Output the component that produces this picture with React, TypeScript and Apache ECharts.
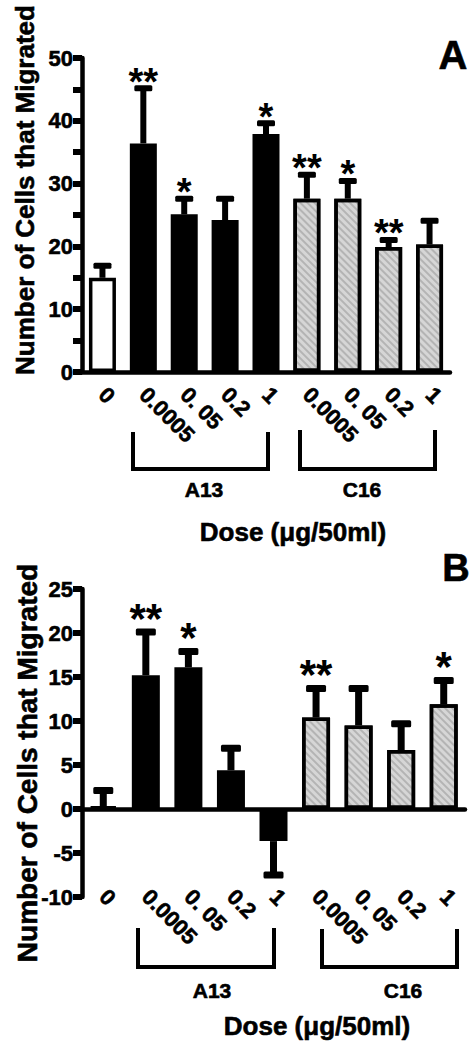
import React, { useEffect, useRef } from 'react';
import * as echarts from 'echarts';

// ---------- data ----------
const doses = ['0', '0.0005', '0. 05', '0.2', '1', '0.0005', '0. 05', '0.2', '1'];
const groups = ['control', 'A13', 'A13', 'A13', 'A13', 'C16', 'C16', 'C16', 'C16'];

const valuesA = [15.0, 36.4, 25.1, 24.2, 37.9, 27.6, 27.6, 19.9, 20.3];
const errEndA = [16.9, 45.2, 27.6, 27.6, 39.6, 31.4, 30.4, 21.0, 24.1];
const starsA = ['', '**', '*', '', '*', '**', '*', '**', ''];

const valuesB = [0.3, 15.2, 16.1, 4.4, -3.65, 10.4, 9.5, 6.7, 11.9];
const errEndB = [2.1, 20.1, 17.9, 6.9, -7.5, 13.7, 13.7, 9.7, 14.6];
const starsB = ['', '**', '*', '', '', '**', '', '', '*'];

const yTitle = 'Number of Cells that Migrated';
const xTitle = 'Dose (\u03bcg/50ml)';

// ---------- styles ----------
const FONT = '"Liberation Sans", Arial, Helvetica, sans-serif';
const STROKE = 0.6;

function barItem(v: number, g: string) {
  if (g === 'control') {
    return { value: v, itemStyle: { color: '#ffffff', borderColor: '#000', borderWidth: 3.5 } };
  }
  if (g === 'A13') {
    return { value: v, itemStyle: { color: '#000000', borderColor: '#000', borderWidth: 8 } };
  }
  return {
    value: v,
    itemStyle: {
      color: '#d6d6d6',
      borderColor: '#000',
      borderWidth: 3.5,
      decal: {
        symbol: 'rect',
        symbolSize: 1,
        color: 'rgba(0,0,0,0.16)',
        dashArrayX: [1, 0],
        dashArrayY: [1.5, 2.5],
        rotation: Math.PI / 4,
      },
    },
  };
}

function errorSeries(
  xi: number,
  yi: number,
  values: number[],
  ends: number[],
  stars: string[],
  stemW: number,
  capW: number,
  capH: number,
  starSize: number,
  starOff: number
) {
  return {
    type: 'custom',
    xAxisIndex: xi,
    yAxisIndex: yi,
    z: 5,
    data: values.map((v, i) => [i, v, ends[i]]),
    renderItem: (params: any, api: any) => {
      const i = api.value(0);
      const p0 = api.coord([i, api.value(1)]);
      const p1 = api.coord([i, api.value(2)]);
      const x = p0[0];
      const yTop = Math.min(p0[1], p1[1]);
      const yBot = Math.max(p0[1], p1[1]);
      const children: any[] = [
        { type: 'rect', shape: { x: x - stemW / 2, y: yTop, width: stemW, height: yBot - yTop }, style: { fill: '#000' } },
        { type: 'rect', shape: { x: x - capW / 2, y: p1[1] - capH / 2, width: capW, height: capH, r: 1.5 }, style: { fill: '#000' } },
      ];
      const s = stars[params.dataIndex];
      if (s) {
        children.push({
          type: 'text',
          x: x,
          y: p1[1] - starOff + 0.22 * starSize,
          style: {
            text: s,
            fill: '#000',
            font: `bold ${starSize}px ${FONT}`,
            align: 'center',
            verticalAlign: 'middle',
            textAlign: 'center',
            textVerticalAlign: 'middle',
          },
        });
      }
      return { type: 'group', children };
    },
  };
}

function gText(text: string, x: number, y: number, size: number, rotation = 0) {
  return {
    type: 'text',
    x,
    y,
    rotation,
    style: {
      text,
      fill: '#000',
      stroke: '#000',
      lineWidth: STROKE,
      font: `bold ${size}px ${FONT}`,
      align: 'center',
      verticalAlign: 'middle',
      textAlign: 'center',
      textVerticalAlign: 'middle',
    },
  };
}

function bracket(x1: number, x2: number, yTop: number, yBot: number) {
  return {
    type: 'polyline',
    shape: { points: [[x1, yTop], [x1, yBot], [x2, yBot], [x2, yTop]] },
    style: { stroke: '#000', lineWidth: 4, fill: null, lineJoin: 'miter' },
  };
}

const axisLineStyle = { color: '#000', width: 4.5 };
const tickLabel = {
  fontSize: 22,
  fontWeight: 'bold',
  color: '#000',
  fontFamily: FONT,
  margin: 9,
  textBorderColor: '#000',
  textBorderWidth: STROKE,
};
const xLabel = {
  rotate: -45,
  fontSize: 22,
  fontWeight: 'bold',
  color: '#000',
  fontFamily: FONT,
  interval: 0,
  textBorderColor: '#000',
  textBorderWidth: STROKE,
};

export default function App() {
  const ref = useRef<HTMLDivElement>(null);
  useEffect(() => {
    if (!ref.current) return;
    const chart = echarts.init(ref.current, null, { renderer: 'svg', width: 474, height: 1050 });
    const option: any = {
      animation: false,
      backgroundColor: '#fff',
      grid: [
        { left: 82, top: 58, width: 368, height: 314 },
        { left: 82, top: 589, width: 383, height: 308 },
      ],
      xAxis: [
        {
          gridIndex: 0,
          type: 'category',
          position: 'bottom',
          data: doses,
          axisLine: { show: true, lineStyle: axisLineStyle },
          axisTick: { show: false },
          axisLabel: { ...xLabel, margin: 19 },
        },
        {
          gridIndex: 1,
          type: 'category',
          position: 'bottom',
          data: doses,
          axisLine: { show: true, onZero: true, lineStyle: axisLineStyle },
          axisTick: { show: false },
          axisLabel: { show: false },
        },
        {
          gridIndex: 1,
          type: 'category',
          position: 'bottom',
          data: doses,
          axisLine: { show: false, onZero: false },
          axisTick: { show: false },
          axisLabel: { ...xLabel, margin: -4 },
        },
      ],
      yAxis: [
        {
          gridIndex: 0,
          type: 'value',
          min: 0,
          max: 50,
          interval: 5,
          axisLine: { show: true, lineStyle: axisLineStyle },
          axisTick: { show: true, length: 9, lineStyle: { color: '#000', width: 6 } },
          splitLine: { show: false },
          axisLabel: { ...tickLabel, formatter: (v: number) => (v % 10 === 0 ? String(v) : '') },
        },
        {
          gridIndex: 1,
          type: 'value',
          min: -10,
          max: 25,
          interval: 5,
          axisLine: { show: true, onZero: false, lineStyle: axisLineStyle },
          axisTick: { show: true, length: 9, lineStyle: { color: '#000', width: 6 } },
          splitLine: { show: false },
          axisLabel: { ...tickLabel },
        },
      ],
      series: [
        {
          type: 'bar',
          xAxisIndex: 0,
          yAxisIndex: 0,
          barWidth: 27,
          z: 2,
          data: valuesA.map((v, i) => barItem(v, groups[i])),
        },
        errorSeries(0, 0, valuesA, errEndA, starsA, 6, 18, 6, 38, 15),
        {
          type: 'bar',
          xAxisIndex: 1,
          yAxisIndex: 1,
          barWidth: 28,
          z: 2,
          data: valuesB.map((v, i) => barItem(v, groups[i])),
        },
        errorSeries(1, 1, valuesB, errEndB, starsB, 7, 20, 7, 42, 23),
      ],
      graphic: [
        gText(yTitle, 25, 190, 26, Math.PI / 2),
        gText('A', 453, 55, 40),
        bracket(133, 268, 432, 469),
        bracket(300, 435, 430, 469),
        gText('A13', 204, 489, 21),
        gText('C16', 362, 489, 21),
        gText(xTitle, 293, 532, 26),

        gText(yTitle, 27, 763, 28, Math.PI / 2),
        gText('B', 456, 568, 38),
        bracket(138, 274, 928, 967),
        bracket(322, 457, 929, 967),
        gText('A13', 212, 990, 21),
        gText('C16', 403, 990, 21),
        gText(xTitle, 317, 1026, 26),
      ],
    };
    chart.setOption(option);
    return () => chart.dispose();
  }, []);
  return (
    <div
      ref={ref}
      style={{ position: 'fixed', left: 0, top: 0, width: 474, height: 1050, background: '#fff' }}
    />
  );
}
